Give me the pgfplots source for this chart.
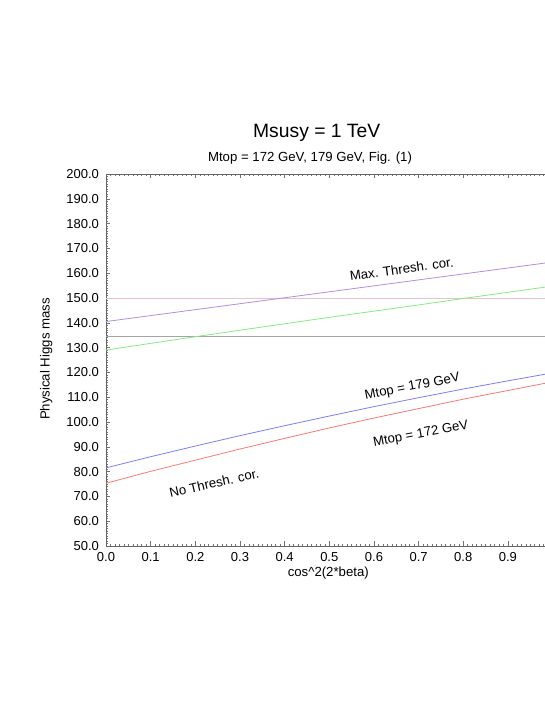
\documentclass[border=0pt]{standalone}
\usepackage{pgfplots}
\pgfplotsset{compat=1.18}
\usepackage{fontspec}
\setmainfont{Liberation Sans}
\definecolor{cpurple}{RGB}{180,140,230}
\definecolor{cpink}{RGB}{225,195,205}
\definecolor{cgray}{RGB}{165,165,165}
\definecolor{cgreen}{RGB}{130,235,130}
\definecolor{cblue}{RGB}{125,125,250}
\definecolor{cred}{RGB}{250,120,120}
\begin{document}
\begin{tikzpicture}[x=1pt,y=1pt]
\begin{axis}[
  at={(106pt,159pt)}, anchor=south west,
  scale only axis, width=446.6pt, height=372pt,
  xmin=0, xmax=1.0, ymin=50, ymax=200,
  axis y line=left, axis x line=box,
  xtick={0,0.1,...,1.0},
  xticklabels={0.0,0.1,0.2,0.3,0.4,0.5,0.6,0.7,0.8,0.9,},
  ytick={50,60,...,200},
  minor x tick num=9, minor y tick num=9,
  tick align=inside,
  major tick length=4.5pt, minor tick length=2pt,
  tick style={black!55, line width=0.5pt},
  axis line style={black!60, line width=0.6pt, -},
  y axis line style={-}, x axis line style={-},
  yticklabel style={/pgf/number format/fixed, /pgf/number format/fixed zerofill, /pgf/number format/precision=1, /pgf/number format/assume math mode=true},
  ticklabel style={font=\fontsize{13}{15}\selectfont},
  xticklabel style={yshift=-3pt},
  yticklabel style={xshift=-3.5pt},
  clip=true,
]
\addplot[cpink, line width=0.8pt] coordinates {(0,149.8) (1.0,149.8)};
\addplot[cgray, line width=1.3pt] coordinates {(0,134.5) (1.0,134.5)};
\addplot[cpurple, line width=0.8pt] coordinates {
(0.0,140.5) (0.1,142.9) (0.2,145.3) (0.3,147.7) (0.4,150.1) (0.5,152.5)
(0.6,154.9) (0.7,157.3) (0.8,159.7) (0.9,162.1) (1.0,164.5)};
\addplot[cgreen, line width=0.8pt] coordinates {
(0.0,129.0) (0.1,131.7) (0.2,134.4) (0.3,137.0) (0.4,139.6) (0.5,142.2)
(0.6,144.7) (0.7,147.2) (0.8,149.8) (0.9,152.3) (1.0,154.8)};
\addplot[cblue, line width=0.8pt] coordinates {
(0.0,81.5) (0.1,86.0) (0.2,90.3) (0.3,94.5) (0.4,98.5) (0.5,102.4)
(0.6,106.2) (0.7,109.8) (0.8,113.3) (0.9,116.6) (1.0,119.8)};
\addplot[cred, line width=0.8pt] coordinates {
(0.0,75.3) (0.1,80.1) (0.2,84.6) (0.3,89.1) (0.4,93.4) (0.5,97.6)
(0.6,101.6) (0.7,105.4) (0.8,109.2) (0.9,112.7) (1.0,116.2)};
\node[rotate=7.7, font=\fontsize{13.2}{15}\selectfont] at (axis cs:0.662,161.7) {Max. Thresh. cor.};
\node[rotate=10.9, font=\fontsize{13.2}{15}\selectfont] at (axis cs:0.686,114.1) {Mtop = 179 GeV};
\node[rotate=10.5, font=\fontsize{13.2}{15}\selectfont] at (axis cs:0.705,95.1) {Mtop = 172 GeV};
\node[rotate=12.8, font=\fontsize{13.2}{15}\selectfont] at (axis cs:0.242,75.4) {No Thresh. cor.};
\end{axis}
\node[anchor=base, font=\fontsize{19.3}{22}\selectfont] at (316.7,567.7) {Msusy = 1 TeV};
\node[anchor=base, font=\fontsize{13.2}{15}\selectfont] at (310,543.3) {Mtop = 172 GeV, 179 GeV, Fig. (1)};
\node[anchor=base, font=\fontsize{13.2}{15}\selectfont] at (328.3,128.3) {cos\^{}2(2*beta)};
\node[anchor=base, rotate=90, font=\fontsize{13.2}{15}\selectfont] at (49.5,346) {Physical Higgs mass};
\pgfresetboundingbox
\path[use as bounding box] (0,0) rectangle (545,705);
\end{tikzpicture}
\end{document}
